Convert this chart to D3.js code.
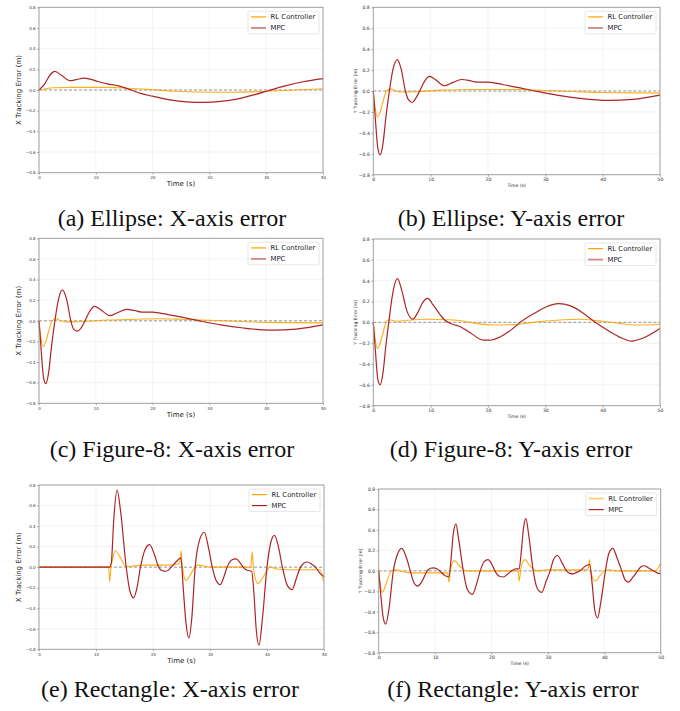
<!DOCTYPE html>
<html>
<head>
<meta charset="utf-8">
<script src="https://cdn.jsdelivr.net/npm/d3@7"></script>
<style>
  html, body { margin: 0; padding: 0; background: #fff; }
  svg { display: block; }
</style>
</head>
<body>
<svg id="chart" width="680" height="711"></svg>
<script>
// ---------- data ----------
const timeTicks = [0, 10, 20, 30, 40, 50];
const errorTicks = [-0.8, -0.6, -0.4, -0.2, 0.0, 0.2, 0.4, 0.6, 0.8];
const seriesNames = ["RL Controller", "MPC"];

// (a) Ellipse X
const ellipseX_RL = [[0,0],[1,0.01],[2.5,0.022],[6,0.025],[12,0.025],[15,0.02],[18,0.01],[20,0.002],[24,-0.012],[28,-0.02],[33,-0.022],[37,-0.018],[41,-0.01],[45,0],[50,0.012]];
const ellipseX_MPC = [[0,0],[1,0.06],[2,0.15],[2.8,0.18],[4,0.14],[5.5,0.09],[6.5,0.1],[8,0.115],[9,0.105],[10.5,0.08],[12,0.06],[14,0.04],[16,0.005],[18,-0.035],[20,-0.06],[23,-0.095],[26,-0.115],[29,-0.12],[32,-0.11],[35,-0.085],[38,-0.045],[40.5,-0.005],[43,0.035],[46.5,0.08],[50,0.11]];

// (b) Ellipse Y
const ellipseY_RL = [[0,0],[0.3,-0.15],[0.7,-0.25],[1.2,-0.2],[1.7,-0.1],[2.3,0],[3,0.02],[3.8,0.002],[4.7,-0.01],[6,-0.01],[8,-0.005],[12,0.008],[17,0.015],[25,0.015],[30,0.005],[35,-0.005],[40,-0.015],[50,-0.02]];
const ellipseY_MPC = [[0,0],[0.4,-0.3],[0.8,-0.55],[1.2,-0.61],[1.7,-0.5],[2.2,-0.25],[2.8,0],[3.4,0.2],[4.2,0.3],[4.9,0.2],[5.6,0],[6.1,-0.08],[6.8,-0.11],[7.4,-0.07],[8.1,0],[8.9,0.09],[9.8,0.14],[10.8,0.11],[12.4,0.05],[13.8,0.08],[15.4,0.11],[16.8,0.1],[18,0.085],[20,0.085],[22.7,0.06],[25.6,0.03],[28.2,0],[32,-0.04],[36,-0.07],[41,-0.09],[45.3,-0.08],[50,-0.04]];

// (c) Figure-8 X
const fig8X_RL = [[0,0],[0.3,-0.15],[0.7,-0.25],[1.2,-0.2],[1.7,-0.1],[2.3,0],[3,0.02],[3.8,0.002],[4.7,-0.01],[6,-0.01],[8,-0.005],[12,0.008],[17,0.015],[21,0.02],[25,0.015],[30,0.005],[35,-0.005],[40,-0.015],[50,-0.02]];
const fig8X_MPC = [[0,0],[0.4,-0.3],[0.8,-0.55],[1.2,-0.61],[1.7,-0.5],[2.2,-0.25],[2.8,0],[3.4,0.2],[4.1,0.3],[4.9,0.2],[5.6,0],[6.1,-0.08],[6.8,-0.1],[7.4,-0.07],[8.1,0],[8.9,0.09],[9.8,0.14],[10.8,0.11],[12.5,0.05],[13.9,0.08],[15.4,0.11],[16.8,0.1],[18,0.085],[20,0.085],[22.7,0.06],[25.6,0.03],[28.2,0],[32,-0.04],[36,-0.07],[41,-0.09],[45.3,-0.08],[50,-0.04]];

// (d) Figure-8 Y
const fig8Y_RL = [[0,0],[0.3,-0.15],[0.7,-0.25],[1.2,-0.2],[1.7,-0.1],[2.3,0.01],[2.8,0.025],[4,0.01],[6,0.02],[9,0.03],[13,0.025],[16,0.01],[18,-0.01],[21,-0.025],[25,-0.02],[28,0],[32,0.02],[36,0.03],[40,0.01],[43,-0.01],[46,-0.025],[50,-0.02]];
const fig8Y_MPC = [[0,0],[0.4,-0.3],[0.8,-0.55],[1.2,-0.6],[1.7,-0.48],[2.2,-0.22],[2.7,0],[3.3,0.25],[4.2,0.42],[5,0.3],[5.8,0.12],[6.9,0.03],[7.8,0.1],[8.6,0.19],[9.5,0.23],[10.4,0.17],[11.3,0.1],[12.5,0.02],[14,-0.02],[15.1,-0.04],[16.9,-0.1],[19.2,-0.17],[20.3,-0.17],[22.1,-0.14],[24.1,-0.07],[25.6,0],[28.5,0.1],[30.2,0.15],[32.3,0.18],[34.3,0.16],[36.3,0.1],[38.7,0],[41,-0.08],[43.3,-0.15],[45,-0.18],[47.1,-0.15],[50,-0.06]];

// (e) Rectangle X
const rectX_RL = [[0,0],[12.2,0],[12.4,-0.14],[12.6,-0.02],[13,0.1],[13.4,0.16],[14,0.12],[15.3,0.005],[16.5,0.01],[18,0.02],[23,0.02],[24.5,0.03],[24.8,0.08],[24.95,0.16],[25.1,0.02],[25.8,-0.13],[26.6,-0.07],[27.4,0],[28,0.02],[29,0.01],[30,0],[37,0],[37.2,0.02],[37.4,0.15],[37.6,0],[38.4,-0.16],[39.5,-0.08],[40.5,0],[42,-0.02],[45,-0.025],[49.2,-0.025],[49.6,-0.06],[49.9,-0.14]];
const rectX_MPC = [[0,0],[12.4,0],[12.7,0.05],[13.1,0.45],[13.7,0.75],[14.3,0.55],[15.3,0],[15.9,-0.22],[16.6,-0.3],[17.2,-0.2],[17.8,0],[18.6,0.17],[19.4,0.22],[20.2,0.13],[21,0],[21.6,-0.035],[22.3,-0.04],[23.2,0],[24.2,0.06],[24.9,0.09],[25.3,-0.2],[25.8,-0.55],[26.3,-0.69],[26.8,-0.5],[27.4,0],[28.2,0.27],[29,0.34],[29.7,0.2],[30.4,0],[31,-0.12],[31.8,-0.17],[32.4,-0.1],[33,0],[33.8,0.07],[34.6,0.08],[35.2,0.05],[35.8,0],[36.5,-0.03],[37.3,-0.04],[37.7,-0.25],[38.1,-0.6],[38.6,-0.76],[39.2,-0.5],[40,0],[40.7,0.25],[41.3,0.31],[42,0.2],[42.7,0],[43.5,-0.17],[44.4,-0.22],[45.2,-0.1],[45.9,0],[46.5,0.04],[47.1,0.05],[47.8,0.03],[48.5,0],[49.3,-0.06],[50,-0.09]];

// (f) Rectangle Y
const rectY_RL = [[0,0],[0.3,-0.15],[0.65,-0.21],[1.1,-0.16],[1.6,-0.08],[2.3,0],[3,0.01],[4.5,-0.01],[6,-0.02],[12.2,-0.02],[12.45,-0.11],[12.7,0],[13.4,0.1],[14.3,0.05],[15.5,0],[24.7,0],[24.9,-0.1],[25.2,0.02],[25.9,0.11],[26.8,0.05],[28,0],[30,0.01],[37,0.01],[37.2,0.03],[37.35,0.11],[37.6,0],[38.4,-0.1],[39.2,-0.05],[40,0],[41,0.01],[42,0],[49,0],[49.5,0.02],[50,0.08]];
const rectY_MPC = [[0,0],[0.4,-0.25],[0.8,-0.46],[1.25,-0.52],[1.8,-0.38],[2.6,0],[3.3,0.16],[4.1,0.22],[4.9,0.13],[5.6,0],[6.2,-0.11],[6.9,-0.15],[7.7,-0.1],[8.6,0],[9.2,0.025],[9.7,0.03],[10.3,0.02],[10.8,0],[11.6,-0.04],[12.45,-0.06],[12.8,0.1],[13.2,0.35],[13.7,0.46],[14.2,0.3],[15,0],[15.7,-0.18],[16.6,-0.23],[17.4,-0.12],[18,0],[18.7,0.09],[19.4,0.11],[20,0.07],[20.6,0],[21.3,-0.05],[22.1,-0.06],[22.9,-0.03],[23.6,0],[24.3,0.02],[24.9,0.02],[25.3,0.2],[25.7,0.43],[26.1,0.51],[26.6,0.35],[27.4,0],[28.1,-0.17],[28.9,-0.21],[29.7,-0.1],[30.4,0],[31,0.11],[31.7,0.15],[32.5,0.08],[33.3,0],[33.9,-0.025],[34.5,-0.03],[35.1,-0.015],[35.7,0],[36.6,0.045],[37.4,0.06],[37.8,-0.1],[38.3,-0.38],[38.8,-0.46],[39.4,-0.3],[40.2,0],[40.8,0.17],[41.5,0.22],[42.3,0.12],[43.1,0],[43.7,-0.09],[44.3,-0.11],[45.1,-0.06],[45.9,0],[46.5,0.04],[47,0.05],[47.8,0.03],[48.7,0],[49.4,-0.02],[50,-0.03]];

// ---------- layout ----------
const panels = [
  {rl: ellipseX_RL, mpc: ellipseX_MPC, ylabel: "X Tracking Error (m)", caption: "(a) Ellipse: X-axis error",
   box: [39, 323, 7.3, 172.7], big: true, ylx: 19, capX: 172, capY: 226, legRL: 1, legMPC: 0.55},
  {rl: ellipseY_RL, mpc: ellipseY_MPC, ylabel: "Y Tracking Error (m)", caption: "(b) Ellipse: Y-axis error",
   box: [373.3, 660, 7.3, 174.7], big: false, ylx: 355, capX: 511, capY: 226, legRL: 1, legMPC: 0.55},
  {rl: fig8X_RL, mpc: fig8X_MPC, ylabel: "X Tracking Error (m)", caption: "(c) Figure-8: X-axis error",
   box: [39, 323, 238.3, 403.3], big: true, ylx: 19, capX: 172, capY: 457, legRL: 1, legMPC: 0.55},
  {rl: fig8Y_RL, mpc: fig8Y_MPC, ylabel: "Y Tracking Error (m)", caption: "(d) Figure-8: Y-axis error",
   box: [373.3, 660, 239, 405.7], big: false, ylx: 355, capX: 511, capY: 457, legRL: 1, legMPC: 0.55},
  {rl: rectX_RL, mpc: rectX_MPC, ylabel: "X Tracking Error (m)", caption: "(e) Rectangle: X-axis error",
   box: [39, 324, 485, 649.3], big: true, ylx: 19, capX: 170, capY: 697, legRL: 1, legMPC: 1},
  {rl: rectY_RL, mpc: rectY_MPC, ylabel: "Y Tracking Error (m)", caption: "(f) Rectangle: Y-axis error",
   box: [378.7, 660.7, 489, 652.7], big: false, ylx: 360, capX: 513, capY: 697, legRL: 0.55, legMPC: 1}
];

const RL_COLOR = "#ffa500";
const MPC_COLOR = "#ac2525";
const svg = d3.select("#chart");
const fmt = v => (v < 0 ? "\u2212" : "") + Math.abs(v).toFixed(1);

panels.forEach(p => {
  const [x0, x1, y0, y1] = p.box;
  const x = d3.scaleLinear().domain([0, 50]).range([x0, x1]);
  const y = d3.scaleLinear().domain([-0.8, 0.8]).range([y1, y0]);
  const g = svg.append("g");
  const tickFs = p.big ? 4 : 4.6;
  const labFs = p.big ? 7 : 4.5;

  // grid
  g.append("g").selectAll("line").data(timeTicks).join("line")
    .attr("x1", d => x(d)).attr("x2", d => x(d)).attr("y1", y0).attr("y2", y1)
    .attr("stroke", "#ebebeb").attr("stroke-width", 0.6);
  g.append("g").selectAll("line").data(errorTicks).join("line")
    .attr("x1", x0).attr("x2", x1).attr("y1", d => y(d)).attr("y2", d => y(d))
    .attr("stroke", "#ebebeb").attr("stroke-width", 0.6);

  // axes
  const xAxis = d3.axisBottom(x).tickValues(timeTicks).tickSize(2).tickPadding(1.5).tickFormat(d3.format("d"));
  const yAxis = d3.axisLeft(y).tickValues(errorTicks).tickSize(2).tickPadding(1.5).tickFormat(fmt);
  const gx = g.append("g").attr("transform", `translate(0,${y1})`).call(xAxis);
  const gy = g.append("g").attr("transform", `translate(${x0},0)`).call(yAxis);
  [gx, gy].forEach(a => {
    a.select(".domain").remove();
    a.selectAll("line").attr("stroke", "#777").attr("stroke-width", 0.6);
    a.selectAll("text").attr("font-family", "DejaVu Sans, sans-serif").attr("font-size", tickFs).attr("fill", "#333");
  });

  // zero line
  g.append("line").attr("x1", x0).attr("x2", x1).attr("y1", y(0)).attr("y2", y(0))
    .attr("stroke", "#808080").attr("stroke-width", 0.8).attr("stroke-dasharray", "3,2");

  // lines
  const line = d3.line().x(d => x(d[0])).y(d => y(d[1])).curve(d3.curveMonotoneX);
  g.append("path").datum(p.rl).attr("d", line).attr("fill", "none")
    .attr("stroke", RL_COLOR).attr("stroke-width", 1.1).attr("stroke-opacity", 0.9);
  g.append("path").datum(p.mpc).attr("d", line).attr("fill", "none")
    .attr("stroke", MPC_COLOR).attr("stroke-width", 1.2);

  // spines
  g.append("rect").attr("x", x0).attr("y", y0).attr("width", x1 - x0).attr("height", y1 - y0)
    .attr("fill", "none").attr("stroke", "#999").attr("stroke-width", 0.9);

  // labels
  g.append("text").attr("x", (x0 + x1) / 2).attr("y", p.big ? y1 + 13.5 : y1 + 12.3)
    .attr("text-anchor", "middle").attr("font-family", "DejaVu Sans, sans-serif")
    .attr("font-size", labFs).attr("fill", "#222").text("Time (s)");
  g.append("text").attr("transform", `translate(${p.ylx},${(y0 + y1) / 2}) rotate(-90)`)
    .attr("text-anchor", "middle").attr("dominant-baseline", "central")
    .attr("font-family", "DejaVu Sans, sans-serif").attr("font-size", labFs).attr("fill", "#222").text(p.ylabel);

  // legend
  const lw = 71, lh = 22.5;
  const lx = x1 - 4 - lw, ly = y0 + 4;
  const lg = g.append("g").attr("transform", `translate(${lx},${ly})`);
  lg.append("rect").attr("width", lw).attr("height", lh).attr("rx", 1.5)
    .attr("fill", "#fff").attr("fill-opacity", 0.85).attr("stroke", "#d6d6d6").attr("stroke-width", 0.6);
  const legItems = [
    {name: seriesNames[0], color: RL_COLOR, op: p.legRL},
    {name: seriesNames[1], color: MPC_COLOR, op: p.legMPC}
  ];
  legItems.forEach((it, i) => {
    const cy = 5.6 + i * 11;
    lg.append("line").attr("x1", 3).attr("x2", 18).attr("y1", cy).attr("y2", cy)
      .attr("stroke", it.color).attr("stroke-opacity", it.op).attr("stroke-width", it.op < 1 ? 1.8 : 1.2);
    lg.append("text").attr("x", 22.5).attr("y", cy).attr("dominant-baseline", "central")
      .attr("font-family", "DejaVu Sans, sans-serif").attr("font-size", 6.9).attr("fill", "#222").text(it.name);
  });

  // caption
  svg.append("text").attr("x", p.capX).attr("y", p.capY).attr("text-anchor", "middle")
    .attr("font-family", "Liberation Serif, Times New Roman, serif").attr("font-size", 24)
    .attr("fill", "#111").text(p.caption);
});
</script>
</body>
</html>
